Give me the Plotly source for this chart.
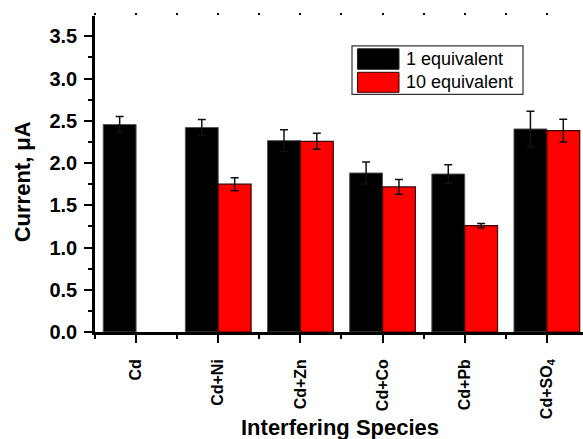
import plotly.graph_objects as go

categories = ["Cd", "Cd+Ni", "Cd+Zn", "Cd+Co", "Cd+Pb", "Cd+SO<sub>4</sub>"]
one_eq = [2.455, 2.42, 2.265, 1.882, 1.870, 2.403]
one_eq_err = [0.095, 0.095, 0.13, 0.13, 0.11, 0.21]
ten_eq = [None, 1.75, 2.257, 1.717, 1.259, 2.384]
ten_eq_err = [None, 0.077, 0.095, 0.088, 0.024, 0.135]
series_names = ["1 equivalent", "10 equivalent"]
y_ticks = [0.0, 0.5, 1.0, 1.5, 2.0, 2.5, 3.0, 3.5]

xpos = list(range(len(categories)))
FONT = "Arial, Liberation Sans, sans-serif"

fig = go.Figure()
fig.add_trace(go.Bar(
    x=xpos, y=one_eq, name=series_names[0],
    marker=dict(color="black", line=dict(color="#555555", width=1)),
    error_y=dict(type="data", array=one_eq_err, color="#111111", thickness=1.5, width=4),
    showlegend=False,
))
fig.add_trace(go.Bar(
    x=xpos, y=ten_eq, name=series_names[1],
    marker=dict(color="#ff0000", line=dict(color="#3a0000", width=1.2)),
    error_y=dict(type="data", array=ten_eq_err, color="#111111", thickness=1.5, width=4),
    showlegend=False,
))
# invisible trace for top tick marks
fig.add_trace(go.Scatter(x=[None], y=[None], xaxis="x2", showlegend=False))

xr = [-0.5, 5.44]
fig.update_layout(
    width=583, height=439,
    margin=dict(l=95, r=0, t=16, b=107),
    plot_bgcolor="white", paper_bgcolor="white",
    barmode="group", bargap=0.2, bargroupgap=0,
    font=dict(family=FONT, color="black"),
    xaxis=dict(
        range=xr, tickmode="array", tickvals=xpos, ticktext=categories,
        tickangle=-90, ticks="outside", ticklen=8, tickwidth=2, tickcolor="black",
        showline=True, linewidth=2.5, linecolor="black", showgrid=False, zeroline=False,
        tickfont=dict(family=FONT, size=16, weight="bold"),
        ticklabelstandoff=10,
        minor=dict(tickmode="linear", tick0=-0.5, dtick=0.5, ticks="outside",
                   ticklen=4, tickwidth=2, tickcolor="black", showgrid=False),
    ),
    xaxis2=dict(
        overlaying="x", side="top", range=xr, tickmode="linear", tick0=-0.5, dtick=0.5,
        ticks="outside", ticklen=2, tickwidth=1.5, tickcolor="black",
        showticklabels=False, showline=False, showgrid=False, zeroline=False,
    ),
    yaxis=dict(
        range=[0, 3.74], tickmode="array", tickvals=y_ticks,
        ticktext=[f"{v:.1f}" for v in y_ticks],
        ticks="outside", ticklen=8, tickwidth=2, tickcolor="black",
        showline=True, linewidth=2.5, linecolor="black", showgrid=False, zeroline=False,
        tickfont=dict(family=FONT, size=20, weight="bold"),
        ticklabelstandoff=3,
        minor=dict(tickmode="linear", tick0=0, dtick=0.25, ticks="outside",
                   ticklen=4, tickwidth=2, tickcolor="black", showgrid=False),
    ),
)

# axis titles
fig.add_annotation(text="Interfering Species", xref="paper", yref="paper",
                   x=(340 - 95) / 488, y=-(427 - 331.7) / 316, showarrow=False,
                   font=dict(family=FONT, size=22, weight="bold"),
                   xanchor="center", yanchor="middle")
fig.add_annotation(text="Current, μA", xref="paper", yref="paper",
                   x=(22 - 95) / 488, y=(331.7 - 182) / 316, showarrow=False, textangle=-90,
                   font=dict(family=FONT, size=22, weight="bold"),
                   xanchor="center", yanchor="middle")

# legend box drawn manually
def px(xv):
    return (xv - 95) / 488

def py(yv):
    return (331.7 - yv) / 316

fig.add_shape(type="rect", xref="paper", yref="paper",
              x0=px(352), x1=px(523), y0=py(94), y1=py(45.5),
              line=dict(color="#333333", width=1.2), fillcolor="white")
fig.add_shape(type="rect", xref="paper", yref="paper",
              x0=px(357.5), x1=px(399), y0=py(69), y1=py(48.5),
              line=dict(color="#222222", width=1), fillcolor="black")
fig.add_shape(type="rect", xref="paper", yref="paper",
              x0=px(357.5), x1=px(399), y0=py(92), y1=py(72),
              line=dict(color="#3a0000", width=1), fillcolor="#ff0000")
for name, yc in zip(series_names, [58.5, 82]):
    fig.add_annotation(text=name, xref="paper", yref="paper", x=px(404), y=py(yc),
                       showarrow=False, xanchor="left", yanchor="middle",
                       font=dict(family=FONT, size=18))

fig.write_html("out.html")
